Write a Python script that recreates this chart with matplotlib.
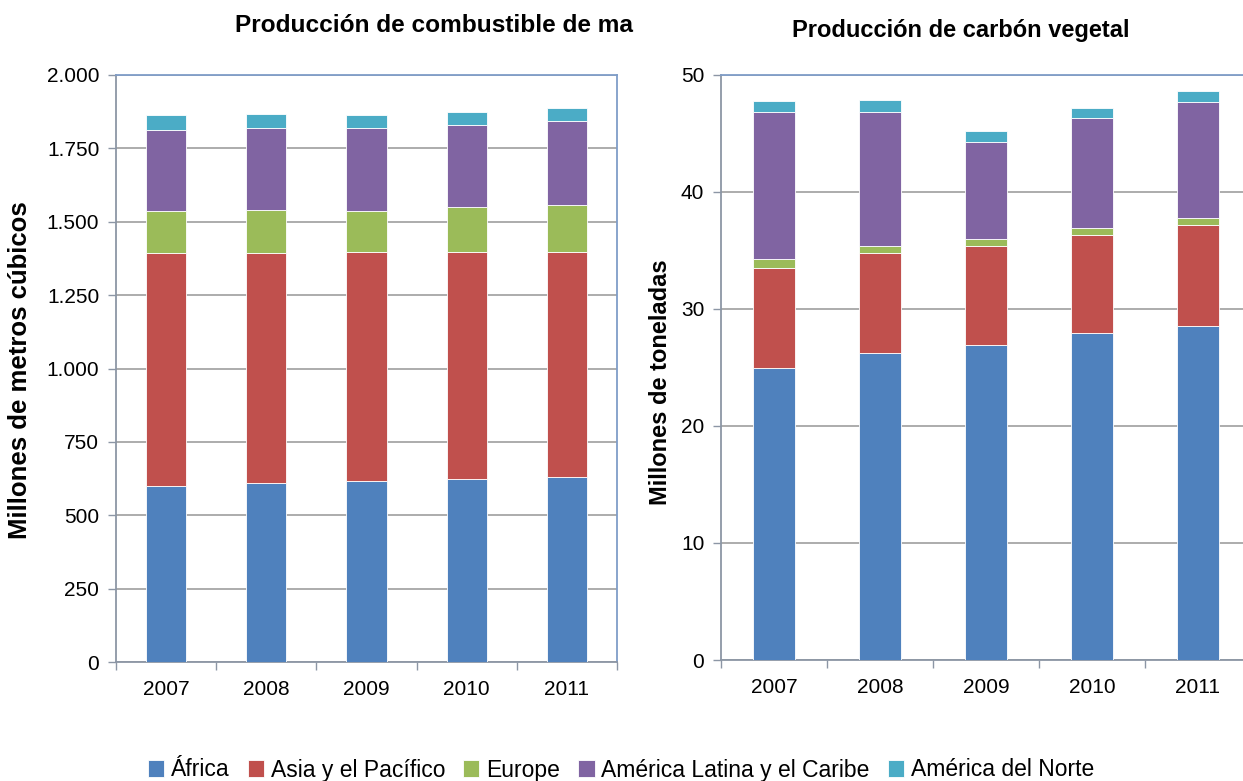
import numpy as np
import matplotlib
matplotlib.use('Agg')
import matplotlib.pyplot as plt
from matplotlib.patches import Rectangle
from matplotlib.ticker import FuncFormatter

plt.rcParams['font.family'] = ['Liberation Sans', 'DejaVu Sans']

years = ['2007', '2008', '2009', '2010', '2011']
regions = ['África', 'Asia y el Pacífico', 'Europe', 'América Latina y el Caribe', 'América del Norte']
colors = ['#4F81BD', '#C0504D', '#9BBB59', '#8064A2', '#4BACC6']

# combustible de madera, millones de m3
wood_africa = [600, 610, 615, 622, 630]
wood_asia = [792, 785, 782, 776, 766]
wood_europe = [145, 145, 140, 151, 161]
wood_latam = [277, 281, 284, 282, 287]
wood_namer = [49, 46, 42, 44, 45]

# carbón vegetal, millones de toneladas
char_africa = [24.96, 26.21, 26.89, 27.92, 28.52]
char_asia = [8.57, 8.61, 8.52, 8.43, 8.69]
char_europe = [0.74, 0.59, 0.60, 0.54, 0.57]
char_latam = [12.60, 11.46, 8.23, 9.40, 9.94]
char_namer = [0.91, 0.96, 0.94, 0.92, 0.88]

W, H = 1243, 781
fig = plt.figure(figsize=(W / 100, H / 100), dpi=100)

ax1 = fig.add_axes([116 / W, 1 - 662 / H, 501 / W, 587 / H])
ax2 = fig.add_axes([721 / W, 1 - 660 / H, 530 / W, 585 / H])


def stack(ax, series, ymax, step, fmt):
    x = np.arange(len(years))
    bottom = np.zeros(len(years))
    for vals, c, lab in zip(series, colors, regions):
        ax.bar(x, vals, 0.4, bottom=bottom, color=c, edgecolor='#ffffff',
               linewidth=0.6, label=lab, zorder=3)
        bottom += np.array(vals)
    ax.set_xlim(-0.5, len(years) - 0.5)
    ax.set_ylim(0, ymax)
    ax.set_yticks(np.arange(0, ymax + step / 2, step))
    ax.yaxis.set_major_formatter(FuncFormatter(fmt))
    ax.set_xticks(x)
    ax.set_xticklabels(years)
    ax.set_xticks(np.arange(-0.5, len(years)), minor=True)
    ax.tick_params(axis='x', which='major', length=0, labelsize=15, pad=13)
    ax.tick_params(axis='x', which='minor', length=6, color='#8C96A5', width=1)
    ax.tick_params(axis='y', length=6, color='#8C96A5', width=1, labelsize=15, pad=6)
    ax.grid(axis='y', color='#A6A6A6', linewidth=1.3, zorder=0)
    ax.set_axisbelow(True)
    for s in ['left', 'bottom']:
        ax.spines[s].set_color('#8C96A5')
        ax.spines[s].set_linewidth(1.3)
    for s in ['top', 'right']:
        ax.spines[s].set_color('#7F9DC8')
        ax.spines[s].set_linewidth(1.3)


stack(ax1, [wood_africa, wood_asia, wood_europe, wood_latam, wood_namer], 2000, 250,
      lambda v, p: f'{int(v):,}'.replace(',', '.'))
stack(ax2, [char_africa, char_asia, char_europe, char_latam, char_namer], 50, 10,
      lambda v, p: f'{int(v)}')

# the right chart covers the end of the left title
t1 = fig.text(235 / W, 1 - 25 / H, 'Producción de combustible de madera', ha='left',
              va='center', fontsize=17.6, fontweight='bold')
t1.set_clip_path(Rectangle((0, 0), 634 / W, 1, transform=fig.transFigure))
fig.text(961 / W, 1 - 30 / H, 'Producción de carbón vegetal', ha='center',
         va='center', fontsize=17, fontweight='bold')

fig.text(20 / W, 1 - 370 / H, 'Millones de metros cúbicos', rotation=90, ha='center',
         va='center', fontsize=18.5, fontweight='bold')
fig.text(660 / W, 1 - 382 / H, 'Millones de toneladas', rotation=90, ha='center',
         va='center', fontsize=17, fontweight='bold')

handles, labels = ax1.get_legend_handles_labels()
fig.legend(handles, labels, loc='center', bbox_to_anchor=(621 / W, 1 - 770 / H),
           ncol=5, frameon=False, fontsize=16.5, handlelength=0.7, handleheight=0.7,
           handletextpad=0.3, columnspacing=0.8, borderaxespad=0)

fig.savefig('out.png', dpi=100)
